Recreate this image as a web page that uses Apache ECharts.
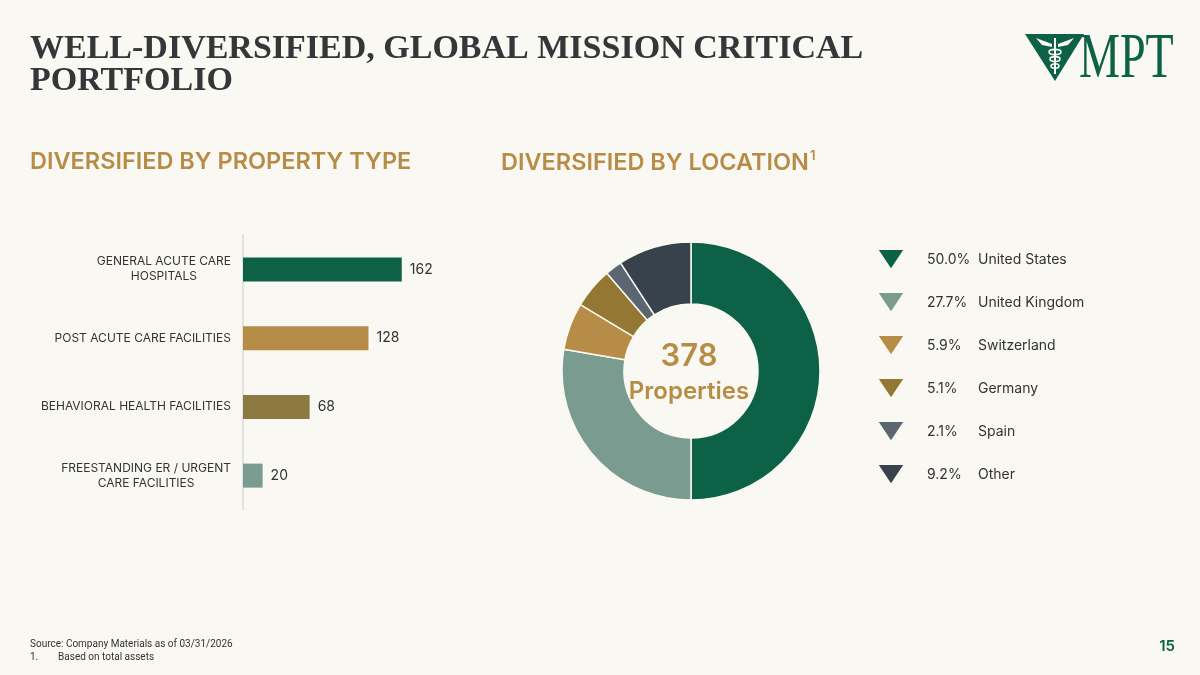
<!DOCTYPE html>
<html>
<head>
<meta charset="utf-8">
<script src="https://cdn.jsdelivr.net/npm/echarts@6/dist/echarts.min.js"></script>
<style>
html,body{margin:0;padding:0;background:#F9F8F3;}
#main{width:1200px;height:675px;}
</style>
</head>
<body>
<div id="main"></div>
<script>
// ---- data ----
const categories = ['GENERAL ACUTE CARE\nHOSPITALS', 'POST ACUTE CARE FACILITIES', 'BEHAVIORAL HEALTH FACILITIES', 'FREESTANDING ER / URGENT\nCARE FACILITIES'];
const propertyCounts = [162, 128, 68, 20];
const barColors = ['#0D6146', '#B68C46', '#8C7A40', '#7A9B8F'];

const locations = ['United States', 'United Kingdom', 'Switzerland', 'Germany', 'Spain', 'Other'];
const locationShares = [50.0, 27.7, 5.9, 5.1, 2.1, 9.2];
const pieColors = ['#0D6146', '#7A9B8F', '#B68C46', '#937732', '#5C6670', '#38424C'];

const totalProperties = 378;

// ---- chart ----
const chart = echarts.init(document.getElementById('main'));
const gold = '#B68C46';
const dark = '#333333';
const green = '#0D6146';
const sans = 'Inter, Lato, sans-serif';

const option = {
  backgroundColor: '#F9F8F3',
  animation: false,
  title: [
    { text: 'WELL-DIVERSIFIED, GLOBAL MISSION CRITICAL\nPORTFOLIO', left: 25, top: 28,
      textStyle: { fontFamily: '"Liberation Serif", "DejaVu Serif", serif', fontWeight: 'bold', fontSize: 34, lineHeight: 32, color: '#34363A' } },
    { text: 'DIVERSIFIED BY PROPERTY TYPE', left: 25, top: 145,
      textStyle: { fontFamily: 'Inter, sans-serif', fontWeight: 600, fontSize: 23.5, color: gold } },
    { text: 'DIVERSIFIED BY LOCATION{s|1}', left: 496, top: 145,
      textStyle: { fontFamily: 'Inter, sans-serif', fontWeight: 600, fontSize: 23.5, color: gold,
        rich: { s: { fontSize: 13, fontFamily: 'Inter, sans-serif', fontWeight: 600, color: gold, verticalAlign: 'top', padding: [0, 0, 13, 1] } } } },
    { text: String(totalProperties), left: 684, top: 336, textAlign: 'center',
      textStyle: { fontFamily: sans, fontWeight: 600, fontSize: 31, color: gold } },
    { text: 'Properties', left: 684, top: 375, textAlign: 'center',
      textStyle: { fontFamily: sans, fontWeight: 600, fontSize: 24, color: gold } },
    { text: 'Source: Company Materials as of 03/31/2026', left: 25, top: 634,
      textStyle: { fontFamily: '"Liberation Sans Narrow", "Roboto", sans-serif', fontWeight: 'normal', fontSize: 10, color: dark } },
    { text: '1.        Based on total assets', left: 25, top: 647,
      textStyle: { fontFamily: '"Liberation Sans Narrow", "Roboto", sans-serif', fontWeight: 'normal', fontSize: 10, color: dark } },
    { text: '15', right: 20, top: 634,
      textStyle: { fontFamily: sans, fontWeight: 600, fontSize: 15, color: green } }
  ],
  graphic: [
    { type: 'polygon', shape: { points: [[1025, 34], [1084, 34], [1055, 81]] }, style: { fill: green } },
    // caduceus (simplified)
    { type: 'polygon', shape: { points: [[1036, 38], [1052, 44], [1052, 47], [1042, 45]] }, style: { fill: '#F9F8F3' } },
    { type: 'polygon', shape: { points: [[1074, 38], [1058, 44], [1058, 47], [1068, 45]] }, style: { fill: '#F9F8F3' } },
    { type: 'line', shape: { x1: 1055, y1: 38, x2: 1055, y2: 74 }, style: { stroke: '#F9F8F3', lineWidth: 2 } },
    { type: 'ellipse', shape: { cx: 1055, cy: 52, rx: 6, ry: 2.6 }, style: { fill: 'none', stroke: '#F9F8F3', lineWidth: 1.6 } },
    { type: 'ellipse', shape: { cx: 1055, cy: 59, rx: 5, ry: 2.4 }, style: { fill: 'none', stroke: '#F9F8F3', lineWidth: 1.6 } },
    { type: 'ellipse', shape: { cx: 1055, cy: 66, rx: 4, ry: 2.2 }, style: { fill: 'none', stroke: '#F9F8F3', lineWidth: 1.6 } },
    { type: 'text', x: 1079, y: 92, scaleX: 0.72,
      style: { text: 'MPT', x: 0, y: 0, fontFamily: '"Liberation Serif", serif', fontSize: 64, fill: green, verticalAlign: 'bottom', align: 'left' } }
  ],
  legend: {
    orient: 'vertical', left: 876, top: 248, padding: 0, itemWidth: 28, itemHeight: 21, itemGap: 20,
    selectedMode: false,
    icon: 'path://M0,0 L28,0 L14,21 Z',
    data: locations,
    formatter: function (name) {
      const i = locations.indexOf(name);
      return '{p|' + locationShares[i].toFixed(1) + '%}{n|' + name + '}';
    },
    textStyle: {
      rich: {
        p: { fontFamily: sans, fontSize: 14, color: dark, width: 51, padding: [0, 0, 0, 17], lineHeight: 21 },
        n: { fontFamily: sans, fontSize: 14, color: dark, lineHeight: 21 }
      }
    }
  },
  grid: { left: 243, top: 235, width: 196, height: 275, containLabel: false },
  xAxis: { type: 'value', min: 0, max: 200, show: false },
  yAxis: {
    type: 'category', data: categories, inverse: true,
    axisLine: { show: true, lineStyle: { color: '#E2E2E0', width: 2 } },
    axisTick: { show: false },
    axisLabel: {
      fontFamily: sans, fontSize: 12, color: dark, margin: 12, align: 'right', lineHeight: 15,
      formatter: function (v) { return v.split('\n').map(l => '{c|' + l + '}').join('\n'); },
      rich: { c: { fontFamily: sans, fontSize: 12, color: dark, align: 'center', lineHeight: 15 } }
    }
  },
  series: [
    {
      type: 'bar', data: propertyCounts.map((v, i) => ({ value: v, itemStyle: { color: barColors[i] } })),
      barWidth: 24,
      label: { show: true, position: 'right', distance: 8, fontFamily: sans, fontSize: 14, color: dark }
    },
    {
      type: 'pie', center: [691, 371], radius: [67, 129], startAngle: 90, clockwise: true,
      label: { show: false }, labelLine: { show: false },
      itemStyle: { borderColor: '#F9F8F3', borderWidth: 1.5 },
      emphasis: { disabled: true },
      data: locations.map((n, i) => ({ name: n, value: locationShares[i], itemStyle: { color: pieColors[i] } }))
    }
  ]
};
chart.setOption(option);
</script>
</body>
</html>
